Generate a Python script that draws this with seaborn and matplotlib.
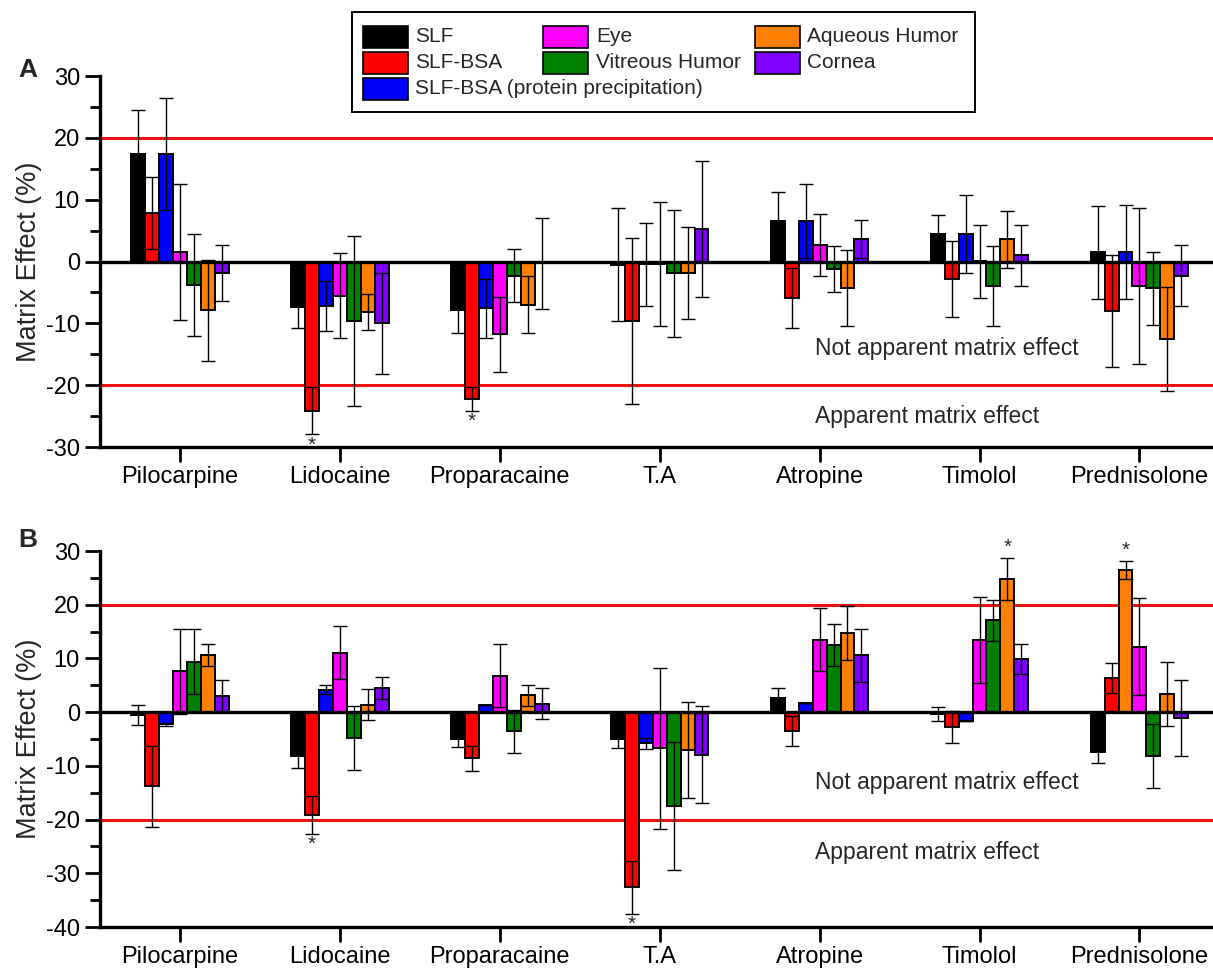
import numpy as np
import pandas as pd
import matplotlib
matplotlib.use("Agg")
import matplotlib.pyplot as plt
from matplotlib.patches import Rectangle
from matplotlib.ticker import MultipleLocator
import seaborn as sns

drugs = ["Pilocarpine", "Lidocaine", "Proparacaine", "T.A", "Atropine", "Timolol", "Prednisolone"]
matrices = ["SLF", "SLF-BSA", "SLF-BSA (protein precipitation)", "Eye",
            "Vitreous Humor", "Aqueous Humor", "Cornea"]
colors = ["#000000", "#ff0000", "#0000ff", "#ff00ff", "#008000", "#ff8000", "#8000ff"]

# Panel A: matrix effect (%) mean and SD, one value per drug
a_slf = [17.4, -7.4, -7.8, -0.5, 6.6, 4.4, 1.5]
a_slf_sd = [7.1, 3.4, 3.8, 9.1, 4.7, 3.1, 7.5]
a_bsa = [7.9, -24.1, -22.2, -9.6, -5.9, -2.8, -8.0]
a_bsa_sd = [5.8, 3.8, 1.9, 13.4, 4.9, 6.1, 9.1]
a_pp = [17.4, -7.2, -7.6, -0.45, 6.6, 4.4, 1.5]
a_pp_sd = [9.0, 4.1, 4.7, 6.7, 6.0, 6.3, 7.6]
a_eye = [1.6, -5.5, -11.8, -0.4, 2.7, 0.05, -3.9]
a_eye_sd = [11.0, 6.9, 6.1, 10.1, 5.0, 5.9, 12.6]
a_vh = [-3.8, -9.6, -2.3, -1.9, -1.2, -4.0, -4.3]
a_vh_sd = [8.3, 13.7, 4.3, 10.3, 3.7, 6.5, 5.9]
a_ah = [-7.9, -8.2, -7.0, -1.85, -4.3, 3.6, -12.6]
a_ah_sd = [8.2, 2.9, 4.6, 7.45, 6.1, 4.6, 8.4]
a_cor = [-1.9, -10.0, -0.3, 5.2, 3.6, 1.0, -2.3]
a_cor_sd = [4.5, 8.2, 7.4, 11.0, 3.1, 4.9, 4.9]

# Panel B: matrix effect (%) mean and SD, one value per drug
b_slf = [-0.5, -8.1, -5.0, -5.0, 2.7, -0.4, -7.4]
b_slf_sd = [1.9, 2.3, 1.5, 1.6, 1.8, 1.3, 2.1]
b_bsa = [-13.8, -19.1, -8.6, -32.6, -3.5, -2.7, 6.4]
b_bsa_sd = [7.5, 3.5, 2.3, 4.9, 2.8, 3.0, 2.8]
b_pp = [-2.3, 4.2, 1.4, -5.8, 1.7, -1.7, 26.4]
b_pp_sd = [0.3, 0.8, 0.0, 1.0, 0.0, 0.0, 1.7]
b_eye = [7.6, 11.1, 6.8, -6.7, 13.5, 13.5, 12.2]
b_eye_sd = [7.9, 4.9, 5.9, 15.0, 5.9, 8.0, 9.0]
b_vh = [9.4, -4.8, -3.6, -17.5, 12.5, 17.1, -8.2]
b_vh_sd = [6.0, 5.9, 4.0, 11.9, 4.0, 3.8, 5.9]
b_ah = [10.6, 1.4, 3.1, -7.0, 14.7, 24.8, 3.4]
b_ah_sd = [2.0, 2.9, 1.9, 8.9, 5.0, 3.9, 5.9]
b_cor = [3.0, 4.5, 1.6, -7.9, 10.6, 9.9, -1.1]
b_cor_sd = [2.9, 2.0, 2.9, 9.0, 4.9, 2.8, 7.0]

# Statistically significant bars (drug, matrix)
a_signif = [("Lidocaine", "SLF-BSA"), ("Proparacaine", "SLF-BSA")]
b_signif = [("Lidocaine", "SLF-BSA"), ("T.A", "SLF-BSA"),
            ("Timolol", "Aqueous Humor"),
            ("Prednisolone", "SLF-BSA (protein precipitation)")]


def long_table(means, sds):
    rows = []
    for m, vals, errs in zip(matrices, means, sds):
        for d, v, e in zip(drugs, vals, errs):
            rows.append({"drug": d, "matrix": m, "value": v, "sd": e})
    return pd.DataFrame(rows)


df_a = long_table([a_slf, a_bsa, a_pp, a_eye, a_vh, a_ah, a_cor],
                  [a_slf_sd, a_bsa_sd, a_pp_sd, a_eye_sd, a_vh_sd, a_ah_sd, a_cor_sd])
df_b = long_table([b_slf, b_bsa, b_pp, b_eye, b_vh, b_ah, b_cor],
                  [b_slf_sd, b_bsa_sd, b_pp_sd, b_eye_sd, b_vh_sd, b_ah_sd, b_cor_sd])

sns.set_theme(style="ticks")
plt.rcParams["font.family"] = ["Liberation Sans", "DejaVu Sans"]
plt.rcParams["axes.unicode_minus"] = False

W, H = 1213, 972
fig = plt.figure(figsize=(W / 100, H / 100), dpi=100)
ax_a = fig.add_axes([100 / W, 1 - 447 / H, 1 - 100 / W, (447 - 76) / H])
ax_b = fig.add_axes([100 / W, 1 - 927 / H, 1 - 100 / W, (927 - 551) / H])


def draw_panel(ax, df, signif, ylim, note_y):
    sns.barplot(data=df, x="drug", y="value", hue="matrix", order=drugs,
                hue_order=matrices, palette=colors, saturation=1, errorbar=None,
                width=0.61, edgecolor="black", linewidth=1.4, legend=False, ax=ax,
                zorder=2)
    for cont, m in zip(ax.containers, matrices):
        sub = df[df["matrix"] == m].set_index("drug").loc[drugs]
        xs = [b.get_x() + b.get_width() / 2 for b in cont.patches]
        ax.errorbar(xs, sub["value"], yerr=sub["sd"], fmt="none", ecolor="black",
                    elinewidth=1.0, capsize=5, capthick=1.0, zorder=3)
        for x, (d, row) in zip(xs, sub.iterrows()):
            if (d, m) in signif:
                if row["value"] < 0:
                    ax.annotate("*", (x, row["value"] - row["sd"]), xytext=(0, -1),
                                textcoords="offset points", ha="center", va="top",
                                fontsize=15)
                else:
                    ax.annotate("*", (x, row["value"] + row["sd"]), xytext=(0, 1),
                                textcoords="offset points", ha="center", va="bottom",
                                fontsize=15)
    ax.axhline(0, color="black", lw=2.4, zorder=4)
    for yv in (20, -20):
        ax.axhline(yv, color="#ee1111", lw=2.2, zorder=1)
    ax.set_xlim(-0.5, 6.46)
    ax.set_ylim(*ylim)
    ax.yaxis.set_major_locator(MultipleLocator(10))
    ax.yaxis.set_minor_locator(MultipleLocator(5))
    ax.set_xlabel("")
    ax.set_ylabel("Matrix Effect (%)", fontsize=19.5, labelpad=3)
    ax.tick_params(axis="both", which="major", length=11, width=2.0, labelsize=17,
                   direction="out", color="black", labelcolor="black")
    ax.tick_params(axis="y", which="minor", length=7, width=2.0, direction="out",
                   color="black")
    ax.tick_params(axis="x", pad=3)
    sns.despine(ax=ax)
    for s in ("left", "bottom"):
        ax.spines[s].set_linewidth(2.4)
        ax.spines[s].set_color("black")
    ax.text(3.97, note_y[0], "Not apparent matrix effect", fontsize=16.5,
            ha="left", va="center")
    ax.text(3.97, note_y[1], "Apparent matrix effect", fontsize=16.5,
            ha="left", va="center")


draw_panel(ax_a, df_a, a_signif, (-30, 30), (-14.1, -25.1))
draw_panel(ax_b, df_b, b_signif, (-40, 30), (-13.1, -26.1))

# Prednisolone protein-precipitation bar is shown in orange in panel B
ax_b.containers[2].patches[drugs.index("Prednisolone")].set_facecolor("#ff8000")

fig.text(18 / W, 1 - 70 / H, "A", fontsize=19, fontweight="bold", va="center")
fig.text(18 / W, 1 - 540 / H, "B", fontsize=19, fontweight="bold", va="center")

# Legend box: three columns, the long third entry of column one runs across
frame = Rectangle((352 / W, 1 - 112 / H), (975 - 352) / W, 100 / H,
                  transform=fig.transFigure, facecolor="white", edgecolor="black",
                  linewidth=1.4, zorder=10)
fig.add_artist(frame)
col_handle_x = [363, 543, 755]
col_text_x = [415, 596, 807]
row_y = [37, 63, 88.5]
slots = [(0, 0), (0, 1), (0, 2), (1, 0), (1, 1), (2, 0), (2, 1)]
for (c, r), label, color in zip(slots, matrices, colors):
    fig.add_artist(Rectangle((col_handle_x[c] / W, 1 - (row_y[r] + 11) / H),
                             45 / W, 22 / H, transform=fig.transFigure,
                             facecolor=color, edgecolor="black", linewidth=1.2,
                             zorder=11))
    fig.text(col_text_x[c] / W, 1 - row_y[r] / H, label, fontsize=15,
             ha="left", va="center", zorder=11)

fig.savefig("out.png", dpi=100, facecolor="white")
